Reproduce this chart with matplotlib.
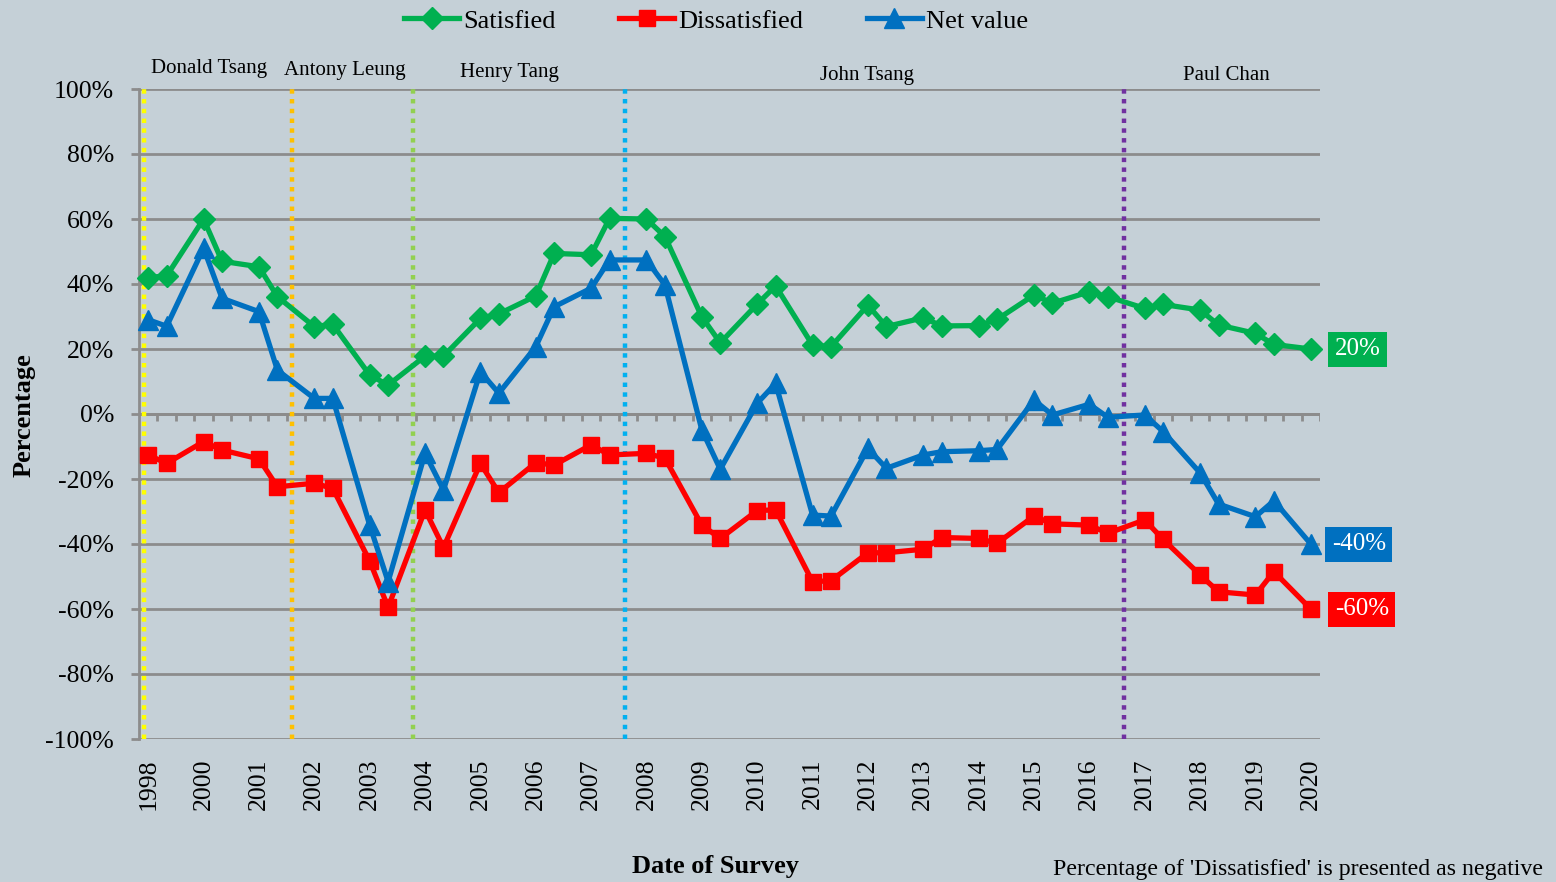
import numpy as np
import matplotlib
matplotlib.use("Agg")
import matplotlib.pyplot as plt

plt.rcParams['font.family'] = ['Liberation Serif', 'DejaVu Serif']

# year labels on the category axis (3 slots per year, 2 surveys each)
years = ['1998', '2000', '2001', '2002', '2003', '2004', '2005', '2006',
         '2007', '2008', '2009', '2010', '2011', '2012', '2013', '2014',
         '2015', '2016', '2017', '2018', '2019', '2020']

satisfied = [42, 42.5, 60, 47, 45.3, 36.1, 26.9, 27.6, 12, 8.9,
             17.8, 17.8, 29.4, 30.8, 36.3, 49.4, 49, 60.2, 60, 54.6,
             29.9, 21.9, 33.8, 39.4, 21.2, 20.7, 33.5, 26.9, 29.6, 27.1,
             27.2, 29.1, 36.6, 34.1, 37.6, 36.1, 32.5, 33.7, 32, 27.4,
             24.8, 21.4, 20]
dissatisfied = [-12.6, -15.2, -8.5, -11.1, -13.8, -22.4, -21.3, -22.9, -45.2, -59.5,
                -29.5, -41.1, -15.2, -24.2, -15, -15.7, -9.5, -12.6, -12.1, -13.6,
                -34.2, -38.3, -29.7, -29.5, -51.6, -51.3, -42.7, -42.7, -41.6, -38,
                -38.3, -39.8, -31.4, -33.8, -34.2, -36.7, -32.6, -38.6, -49.5, -54.7,
                -55.7, -48.5, -60]
net_value = [29, 27, 51, 35.6, 31.5, 13.5, 4.8, 4.8, -34.2, -51.6,
             -12.1, -23.4, 13, 6.4, 20.7, 33, 38.7, 47.4, 47.4, 39.7,
             -4.9, -17, 3.3, 9.4, -31.1, -31.4, -10.6, -16.7, -12.6, -11.6,
             -11.3, -10.9, 4.3, -0.3, 3, -1, -0.3, -5.4, -18.1, -27.7,
             -31.6, -26.7, -40]

# financial secretaries and where each term starts (category slot units)
leaders = ['Donald Tsang', 'Antony Leung', 'Henry Tang', 'John Tsang', 'Paul Chan']
leader_start = [-0.22, 7.78, 14.35, 25.82, 52.87]
leader_label_pos = [3.3, 10.65, 19.6, 38.95, 58.4]
leader_label_y = [1.032, 1.029, 1.025, 1.0215, 1.0215]
leader_colors = ['#FFFF00', '#FFC000', '#92D050', '#00B0F0', '#7030A0']

bg = '#C5D0D7'
grid_c = '#8C8C8C'
n_slots = 3 * len(years) - 2

# slot index of each survey: two surveys then one empty slot per year
x = np.array([3 * (i // 2) + i % 2 for i in range(len(satisfied))])

fig = plt.figure(figsize=(15.56, 8.82), dpi=100, facecolor=bg)
ax = fig.add_axes([139 / 1556, 1 - 739 / 882, 1181 / 1556, 650 / 882])
ax.set_facecolor(bg)

series = [
    ('Satisfied', satisfied, '#00B050', 'D', 11),
    ('Dissatisfied', dissatisfied, '#FF0000', 's', 11),
    ('Net value', net_value, '#0070C0', '^', 14),
]
for name, vals, col, mk, ms in series:
    ax.plot(x, vals, color=col, lw=3.8, marker=mk, ms=ms, label=name,
            zorder=4, clip_on=False)

# label boxes for the latest values
label_dx = [47, 51, 48]
for (name, vals, col, mk, ms), dx in zip(series, label_dx):
    ax.annotate(f"{vals[-1]:.0f}%", (x[-1], vals[-1]), xytext=(dx, 0),
                textcoords='offset pixels', ha='center', va='center',
                color='white', fontsize=18, annotation_clip=False,
                bbox=dict(boxstyle='square,pad=0.26', fc=col, ec='none'))

# leader change markers
for pos, col in zip(leader_start, leader_colors):
    ax.axvline(pos, color=col, lw=3.2, ls=(0, (1, 1.2)), zorder=3)
for name, pos, yy in zip(leaders, leader_label_pos, leader_label_y):
    ax.text(pos, yy, name, transform=ax.get_xaxis_transform(), ha='center',
            va='center', fontsize=15)

ax.set_xlim(-0.5, n_slots - 0.5)
ax.set_ylim(-100, 100)
ax.set_yticks(np.arange(-100, 101, 20))
ax.set_yticklabels([f"{v}%" for v in range(-100, 101, 20)], fontsize=18.5)
ax.yaxis.grid(True, color=grid_c, lw=2)
ax.set_axisbelow(True)

# zero axis with tick marks at slot boundaries
ax.axhline(0, color=grid_c, lw=2, zorder=2)
ax.vlines(np.arange(0.5, n_slots, 1), -2.2, 0, color=grid_c, lw=2, zorder=2)

ax.set_xticks(np.arange(0, n_slots, 3))
ax.set_xticklabels(years, rotation=90, fontsize=18.5)
ax.tick_params(axis='x', length=0, pad=14)
ax.tick_params(axis='y', length=6, width=2, color=grid_c, pad=12)

for side in ['top', 'right', 'bottom']:
    ax.spines[side].set_visible(False)
ax.spines['left'].set_color(grid_c)
ax.spines['left'].set_linewidth(2)

fig.text(24 / 1556, 1 - 415 / 882, 'Percentage', rotation=90, ha='center',
         va='center', fontsize=19, fontweight='bold')
fig.text(715 / 1556, 1 - 866 / 882, 'Date of Survey', ha='center',
         va='center', fontsize=19, fontweight='bold')
fig.text(1543 / 1556, 1 - 870 / 882,
         "Percentage of 'Dissatisfied' is presented as negative",
         ha='right', va='center', fontsize=17.2)

fig.legend(loc='center', bbox_to_anchor=(716 / 1556, 1 - 21 / 882), ncol=3,
           frameon=False, fontsize=19, handlelength=2.1, handletextpad=0.15,
           columnspacing=2.4)

fig.savefig('out.png', dpi=100, facecolor=bg)
